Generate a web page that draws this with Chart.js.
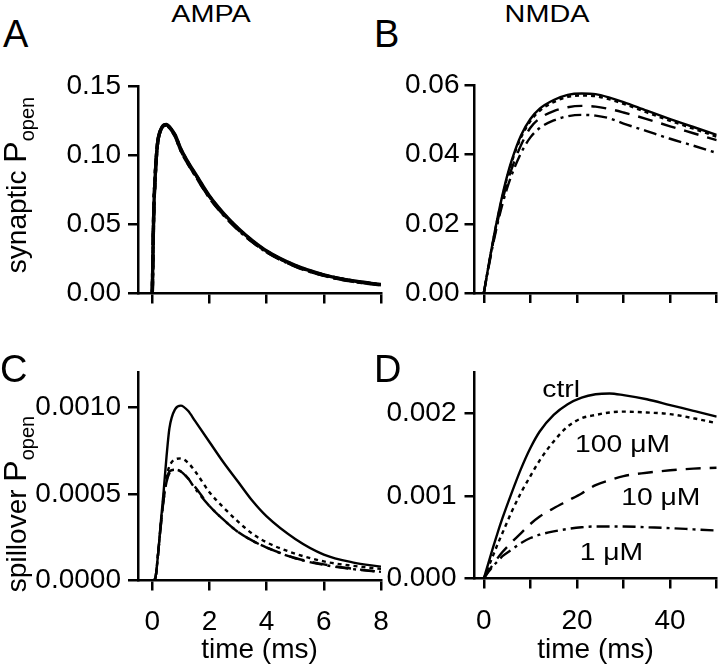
<!DOCTYPE html>
<html>
<head>
<meta charset="utf-8">
<script src="https://cdn.jsdelivr.net/npm/chart.js@4.4.1/dist/chart.umd.min.js"></script>
<style>
body { margin: 0; background: #fff; width: 720px; height: 670px; position: relative; overflow: hidden;
       font-family: "Liberation Sans", Arial, sans-serif; color: #000; }
canvas { position: absolute; }
.txt { position: absolute; white-space: nowrap; line-height: 1; z-index: 2; }
.letter { font-size: 38px; }
.head { font-size: 24px; width: 200px; text-align: center; transform: scaleX(1.2); }
.ytitle { font-size: 28px; line-height: 34px; transform: translate(-50%, -50%) rotate(-90deg); }
.ytitle .p { font-size: 32px; }
.ytitle sub { font-size: 20px; vertical-align: baseline; position: relative; top: 8px; }
</style>
</head>
<body>
<canvas id="chartA" width="390" height="270" style="left:0px; top:60px;"></canvas>
<canvas id="chartB" width="360" height="270" style="left:360px; top:60px;"></canvas>
<canvas id="chartC" width="390" height="325" style="left:0px; top:345px;"></canvas>
<canvas id="chartD" width="360" height="325" style="left:360px; top:345px;"></canvas>

<div class="txt head" style="left:111px; top:2px;">AMPA</div>
<div class="txt head" style="left:447px; top:2px;">NMDA</div>
<div class="txt letter" style="left:3px; top:15px;">A</div>
<div class="txt letter" style="left:374px; top:15px;">B</div>
<div class="txt letter" style="left:0px; top:350px;">C</div>
<div class="txt letter" style="left:374px; top:350px;">D</div>
<div class="txt ytitle" style="left:17px; top:185px;">synaptic <span class="p">P</span><sub>open</sub></div>
<div class="txt ytitle" style="left:17px; top:504px;">spillover <span class="p">P</span><sub>open</sub></div>

<script>
// Kurven-Namen (ctrl + Konzentrationen)
const seriesNames = ['ctrl', '100 μM', '10 μM', '1 μM'];

// A: AMPA, synaptisch (Zeit in ms)
const timeA = [0, 0.05, 0.1, 0.15, 0.2, 0.3, 0.4, 0.5, 0.6, 0.8, 1.0, 1.25, 1.5, 2, 2.5, 3, 3.5, 4, 5, 6, 7, 8];
const synAmpaCtrl = [0, 0.058, 0.084, 0.101, 0.111, 0.1186, 0.1217, 0.1222, 0.1205, 0.1145, 0.1045, 0.0950, 0.0868, 0.0705, 0.0578, 0.0472, 0.0382, 0.0307, 0.0203, 0.0135, 0.0092, 0.0065];
const synAmpa100  = [0, 0.058, 0.084, 0.101, 0.111, 0.1185, 0.1216, 0.1220, 0.1203, 0.1142, 0.1041, 0.0946, 0.0864, 0.0701, 0.0574, 0.0469, 0.0379, 0.0305, 0.0201, 0.0134, 0.0091, 0.0064];
const synAmpa10   = [0, 0.058, 0.084, 0.101, 0.111, 0.1184, 0.1214, 0.1218, 0.1200, 0.1138, 0.1036, 0.0941, 0.0858, 0.0696, 0.0569, 0.0465, 0.0376, 0.0302, 0.0199, 0.0132, 0.0090, 0.0063];
const synAmpa1    = [0, 0.058, 0.084, 0.101, 0.111, 0.1184, 0.1213, 0.1217, 0.1199, 0.1136, 0.1034, 0.0939, 0.0856, 0.0694, 0.0567, 0.0463, 0.0374, 0.0301, 0.0198, 0.0131, 0.0089, 0.0062];

// B: NMDA, synaptisch
const timeB = [0, 1, 2, 3, 4, 5, 6, 8, 10, 12, 15, 18, 21, 24, 27, 30, 35, 40, 45, 50];
const synNmdaCtrl = [0, 0.0078, 0.0153, 0.0221, 0.0283, 0.0338, 0.0384, 0.0456, 0.0503, 0.0533, 0.0558, 0.0573, 0.0577, 0.0575, 0.0565, 0.0552, 0.0527, 0.0503, 0.0480, 0.0457];
const synNmda100  = [0, 0.0077, 0.0151, 0.0218, 0.0279, 0.0333, 0.0379, 0.0450, 0.0497, 0.0527, 0.0552, 0.0567, 0.0571, 0.0569, 0.0560, 0.0547, 0.0522, 0.0498, 0.0475, 0.0452];
const synNmda10   = [0, 0.0075, 0.0146, 0.0210, 0.0268, 0.0318, 0.0360, 0.0428, 0.0478, 0.0505, 0.0526, 0.0537, 0.0541, 0.0539, 0.0532, 0.0522, 0.0503, 0.0482, 0.0462, 0.0442];
const synNmda1    = [0, 0.0073, 0.0142, 0.0203, 0.0257, 0.0303, 0.0342, 0.0405, 0.0450, 0.0477, 0.0499, 0.0511, 0.0515, 0.0513, 0.0505, 0.0490, 0.0468, 0.0446, 0.0426, 0.0405];

// C: AMPA, Spillover
const timeC = [0, 0.1, 0.2, 0.3, 0.4, 0.5, 0.6, 0.8, 1.0, 1.25, 1.5, 2, 2.5, 3, 3.5, 4, 5, 6, 7, 8];
const spillAmpaCtrl = [0, 0.00001, 0.00015, 0.00034, 0.00052, 0.00072, 0.00088, 0.00099, 0.00101, 0.00098, 0.00092, 0.00080, 0.00068, 0.00057, 0.00046, 0.00037, 0.00024, 0.00015, 0.000105, 0.00008];
const spillAmpa100  = [0, 0.00001, 0.00015, 0.00033, 0.00049, 0.00060, 0.00066, 0.00070, 0.000705, 0.00068, 0.00063, 0.00051, 0.00042, 0.00034, 0.00027, 0.00022, 0.000155, 0.00011, 0.000085, 0.000067];
const spillAmpa10   = [0, 0.00001, 0.00015, 0.00032, 0.00047, 0.00057, 0.00062, 0.00064, 0.00063, 0.00059, 0.00054, 0.00043, 0.00035, 0.00028, 0.00023, 0.00019, 0.00013, 0.000093, 0.000068, 0.00005];
const spillAmpa1    = [0, 0.00001, 0.00015, 0.00032, 0.00047, 0.00058, 0.00063, 0.00064, 0.00063, 0.00059, 0.00053, 0.00043, 0.00035, 0.00028, 0.00023, 0.00019, 0.000128, 0.00009, 0.000066, 0.00005];

// D: NMDA, Spillover
const timeD = [0, 1, 2, 3, 4, 6, 8, 10, 12, 15, 18, 21, 24, 27, 30, 35, 40, 45, 50];
const spillNmdaCtrl = [0, 0.00019, 0.00038, 0.00056, 0.00073, 0.00104, 0.00133, 0.00158, 0.00178, 0.00198, 0.00211, 0.00219, 0.00223, 0.00224, 0.00222, 0.00217, 0.00210, 0.00203, 0.00196];
const spillNmda100  = [0, 0.00014, 0.00028, 0.00042, 0.00055, 0.00081, 0.00104, 0.00124, 0.00143, 0.00166, 0.00184, 0.00194, 0.00198, 0.00201, 0.00202, 0.00201, 0.00199, 0.00194, 0.00188];
const spillNmda10   = [0, 0.00009, 0.00017, 0.00025, 0.00032, 0.00044, 0.00055, 0.00066, 0.00075, 0.00085, 0.00094, 0.00103, 0.00113, 0.00119, 0.00124, 0.00128, 0.00131, 0.00133, 0.00134];
const spillNmda1    = [0, 0.00008, 0.00015, 0.00021, 0.00027, 0.00035, 0.00043, 0.00049, 0.00053, 0.00057, 0.00060, 0.00062, 0.00063, 0.00063, 0.00063, 0.00062, 0.00061, 0.000595, 0.00058];

// Achsen-Ticks und Beschriftungen
const xTicksAmpa = [0, 2, 4, 6, 8];
const xLabelsAmpa = ['0', '2', '4', '6', '8'];
const xTicksNmda = [0, 10, 20, 30, 40, 50];
const xLabelsNmda = ['0', '', '20', '', '40', ''];
const yTicksA = [0, 0.05, 0.10, 0.15];
const yLabelsA = ['0.00', '0.05', '0.10', '0.15'];
const yTicksB = [0, 0.02, 0.04, 0.06];
const yLabelsB = ['0.00', '0.02', '0.04', '0.06'];
const yTicksC = [0, 0.0005, 0.0010];
const yLabelsC = ['0.0000', '0.0005', '0.0010'];
const yTicksD = [0, 0.001, 0.002];
const yLabelsD = ['0.000', '0.001', '0.002'];

const FONT = '"Liberation Sans", Arial, sans-serif';
const dashes = [[], [4, 4], [15, 9], [13, 5, 3, 5]];

// Beschriftung der Kurven direkt im Diagramm (Panel D)
const curveLabels = {
    id: 'curveLabels',
    afterDatasetsDraw(chart, args, opts) {
        if (!opts.items) return;
        const ctx = chart.ctx;
        const xs = chart.scales.x, ys = chart.scales.y;
        ctx.save();
        ctx.font = '24px ' + FONT;
        ctx.fillStyle = '#000';
        ctx.textAlign = 'center';
        ctx.textBaseline = 'alphabetic';
        opts.items.forEach(it => {
            ctx.save();
            ctx.translate(xs.getPixelForValue(it.x), ys.getPixelForValue(it.y));
            ctx.scale(1.18, 1);
            ctx.fillText(seriesNames[it.series], 0, 0);
            ctx.restore();
        });
        ctx.restore();
    }
};

function toPoints(t, v) {
    return t.map((x, i) => ({ x: x, y: v[i] }));
}

function makePanel(id, p) {
    const ctx = document.getElementById(id).getContext('2d');
    const axisLine = { color: '#000', width: 2.5 };
    const tickGrid = { drawOnChartArea: false, drawTicks: true, tickLength: 10, color: '#000', lineWidth: 2.5 };
    return new Chart(ctx, {
        type: 'line',
        data: {
            datasets: p.series.map((vals, k) => ({
                label: seriesNames[k],
                data: toPoints(p.time, vals),
                borderColor: '#000',
                borderWidth: p.lineWidth || 2.4,
                borderDash: dashes[k],
                pointRadius: 0,
                fill: false,
                cubicInterpolationMode: 'monotone'
            }))
        },
        options: {
            animation: false,
            responsive: false,
            devicePixelRatio: 1,
            layout: { padding: { top: p.padTop, right: p.padRight, left: 0, bottom: 0 } },
            plugins: {
                legend: { display: false },
                tooltip: { enabled: false },
                curveLabels: { items: p.labels }
            },
            scales: {
                x: {
                    type: 'linear',
                    min: p.xMin,
                    max: p.xMax,
                    afterBuildTicks: s => { s.ticks = p.xTicks.map(v => ({ value: v })); },
                    afterFit: s => { s.height = p.xHeight; s.paddingLeft = 0; s.paddingRight = 0; },
                    border: axisLine,
                    grid: tickGrid,
                    ticks: {
                        display: !!p.xLabels,
                        autoSkip: false,
                        maxRotation: 0,
                        color: '#000',
                        font: { family: FONT, size: 28 },
                        padding: p.xPad || 15,
                        callback: (v, i) => p.xLabels ? p.xLabels[i] : ''
                    },
                    title: {
                        display: !!p.xLabels,
                        text: 'time (ms)',
                        color: '#000',
                        font: { family: FONT, size: 28 },
                        padding: { top: 0, bottom: 3 }
                    }
                },
                y: {
                    type: 'linear',
                    min: 0,
                    max: p.yMax,
                    afterBuildTicks: s => { s.ticks = p.yTicks.map(v => ({ value: v })); },
                    afterFit: s => { s.width = p.yWidth; s.paddingTop = 0; s.paddingBottom = 0; },
                    border: axisLine,
                    grid: tickGrid,
                    ticks: {
                        color: '#000',
                        font: { family: FONT, size: 28 },
                        padding: p.yPad,
                        callback: (v, i) => p.yLabels[i]
                    }
                }
            }
        },
        plugins: [curveLabels]
    });
}

makePanel('chartA', {
    time: timeA, series: [synAmpaCtrl, synAmpa100, synAmpa10, synAmpa1], lineWidth: 3.4,
    xMin: -0.5, xMax: 8, xTicks: xTicksAmpa, xLabels: null, xHeight: 36.5,
    yMax: 0.15, yTicks: yTicksA, yLabels: yLabelsA, yWidth: 138, yPad: 7,
    padTop: 26, padRight: 9
});

makePanel('chartB', {
    time: timeB, series: [synNmdaCtrl, synNmda100, synNmda10, synNmda1],
    xMin: -2, xMax: 50, xTicks: xTicksNmda, xLabels: null, xHeight: 37,
    yMax: 0.06, yTicks: yTicksB, yLabels: yLabelsB, yWidth: 114.5, yPad: 5,
    padTop: 25.5, padRight: 3.3
});

makePanel('chartC', {
    time: timeC, series: [spillAmpaCtrl, spillAmpa100, spillAmpa10, spillAmpa1],
    xMin: -0.5, xMax: 8, xTicks: xTicksAmpa, xLabels: xLabelsAmpa, xHeight: 89.5, xPad: 15,
    yMax: 0.0012, yTicks: yTicksC, yLabels: yLabelsC, yWidth: 138, yPad: 7,
    padTop: 27.7, padRight: 9
});

makePanel('chartD', {
    time: timeD, series: [spillNmdaCtrl, spillNmda100, spillNmda10, spillNmda1],
    xMin: -2, xMax: 50, xTicks: xTicksNmda, xLabels: xLabelsNmda, xHeight: 91.5, xPad: 16,
    yMax: 0.0025, yTicks: yTicksD, yLabels: yLabelsD, yWidth: 114.5, yPad: 8,
    padTop: 27, padRight: 3.3,
    labels: [
        { series: 0, x: 16.6, y: 0.00220 },
        { series: 1, x: 29.8, y: 0.00153 },
        { series: 2, x: 38.0, y: 0.00089 },
        { series: 3, x: 27.4, y: 0.000224 }
    ]
});
</script>
</body>
</html>
